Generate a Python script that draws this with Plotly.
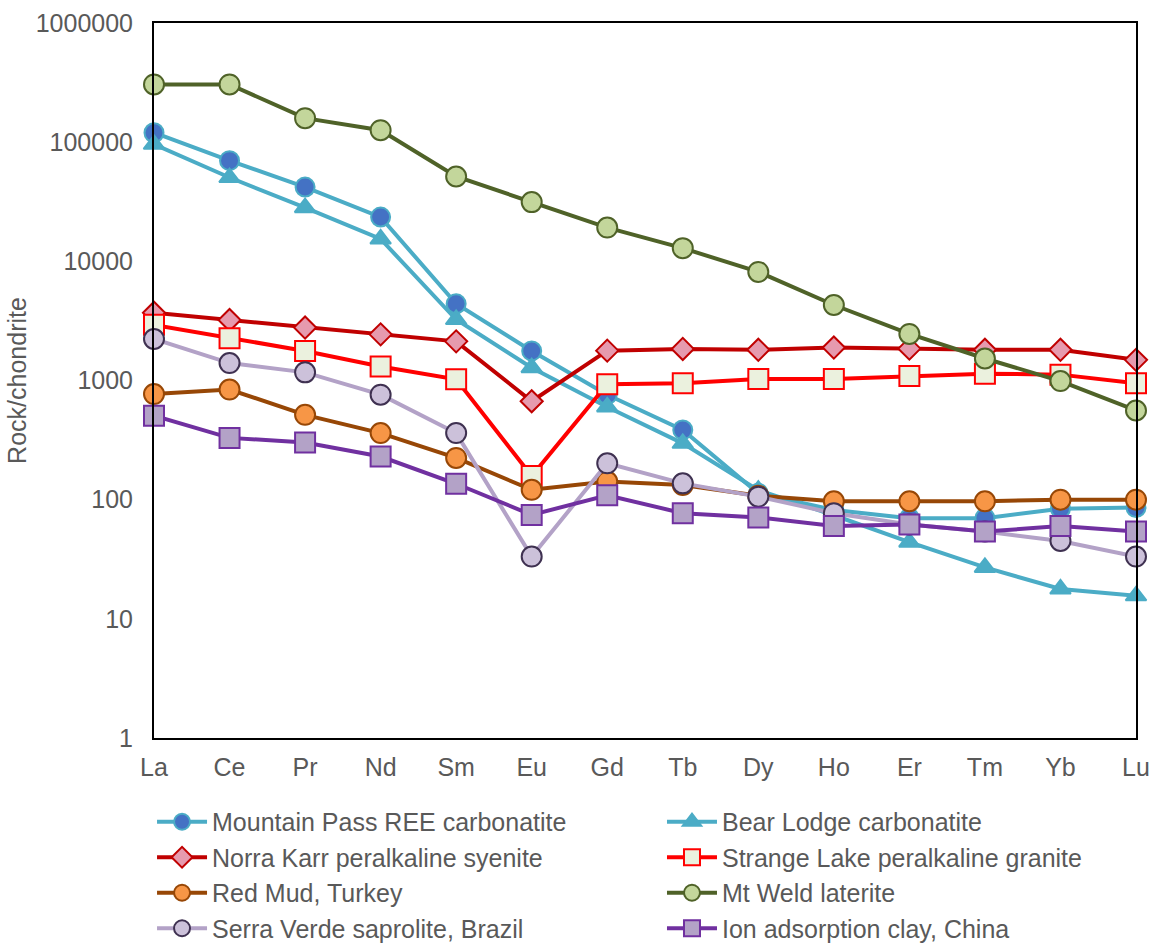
import plotly.graph_objects as go

elements = ["La", "Ce", "Pr", "Nd", "Sm", "Eu", "Gd", "Tb", "Dy", "Ho", "Er", "Tm", "Yb", "Lu"]

mountain_pass = [120000, 70000, 42000, 23500, 4400, 1770, 760, 385, 113, 82, 70, 70, 84, 86]
bear_lodge = [96000, 50500, 28200, 15400, 3250, 1280, 600, 297, 120, 74, 44, 27, 17.8, 15.6]
norra_karr = [3700, 3220, 2780, 2440, 2130, 670, 1780, 1840, 1810, 1890, 1850, 1810, 1810, 1490]
strange_lake = [2930, 2260, 1770, 1310, 1025, 158, 930, 950, 1030, 1030, 1090, 1140, 1120, 950]
red_mud = [770, 840, 515, 362, 224, 121, 142, 133, 108, 97, 97, 97, 100, 100]
mt_weld = [305000, 305000, 159000, 126000, 51500, 31400, 19200, 12900, 8150, 4300, 2460, 1530, 990, 560]
serra_verde = [2230, 1400, 1170, 760, 362, 33.3, 202, 137, 106, 77, 62, 54, 45, 33.3]
ion_clay = [507, 330, 302, 230, 136, 74.5, 109, 77, 71, 60, 62, 54, 60, 54]

names = ["Mountain Pass REE carbonatite", "Bear Lodge carbonatite",
         "Norra Karr peralkaline syenite", "Strange Lake peralkaline granite",
         "Red Mud, Turkey", "Mt Weld laterite",
         "Serra Verde saprolite, Brazil", "Ion adsorption clay, China"]
series = [mountain_pass, bear_lodge, norra_karr, strange_lake, red_mud, mt_weld, serra_verde, ion_clay]

styles = [
    dict(line="#4BACC6", fill="#4472C4", edge="#4BACC6", symbol="circle", size=19),
    dict(line="#4BACC6", fill="#4BACC6", edge="#4BACC6", symbol="triangle-up", size=18),
    dict(line="#C00000", fill="#E69AAE", edge="#C00000", symbol="diamond", size=17),
    dict(line="#FF0000", fill="#EBF1DE", edge="#FF0000", symbol="square", size=20),
    dict(line="#974706", fill="#F79646", edge="#974706", symbol="circle", size=20),
    dict(line="#4F6228", fill="#C3D69B", edge="#4F6228", symbol="circle", size=20),
    dict(line="#B3A2C7", fill="#CCC1DA", edge="#3F3151", symbol="circle", size=20),
    dict(line="#7030A0", fill="#B3A2C7", edge="#7030A0", symbol="square", size=20),
]

fig = go.Figure()
for i, (name, vals, st) in enumerate(zip(names, series, styles)):
    fig.add_trace(go.Scatter(
        x=elements, y=vals, name=name, mode="lines+markers",
        line=dict(color=st["line"], width=4),
        marker=dict(symbol=st["symbol"], size=st["size"], color=st["fill"],
                    line=dict(color=st["edge"], width=2)),
        cliponaxis=False,
        legend="legend" if i % 2 == 0 else "legend2",
    ))

font_family = "Liberation Sans, Arial, sans-serif"
tick_color = "#595959"
fs = 25

legend_common = dict(
    orientation="v", xanchor="left", yanchor="top",
    itemwidth=50, tracegroupgap=0, bgcolor="rgba(0,0,0,0)",
    font=dict(family=font_family, size=fs, color=tick_color),
)

fig.update_layout(
    width=1153, height=944,
    margin=dict(l=154, r=17, t=23, b=206, autoexpand=False),
    paper_bgcolor="white", plot_bgcolor="white",
    font=dict(family=font_family, size=fs, color=tick_color),
    showlegend=True,
    legend=dict(x=-0.002, y=-0.0853, **legend_common),
    legend2=dict(x=0.5173, y=-0.0853, **legend_common),
)

fig.update_xaxes(
    type="category", range=[0, 13], showgrid=False, zeroline=False,
    showline=True, linecolor="black", linewidth=2, mirror=True,
    ticks="", ticklabelstandoff=6,
    tickfont=dict(family=font_family, size=fs, color=tick_color),
)
fig.update_yaxes(
    type="log", range=[0, 6], showgrid=False, zeroline=False,
    showline=True, linecolor="black", linewidth=2, mirror=True,
    tickvals=[1, 10, 100, 1000, 10000, 100000, 1000000],
    ticktext=["1", "10", "100", "1000", "10000", "100000", "1000000"],
    ticks="", ticklabelstandoff=14,
    tickfont=dict(family=font_family, size=fs, color=tick_color),
    title=dict(text="Rock/chondrite", standoff=2,
               font=dict(family=font_family, size=fs, color=tick_color)),
)

fig.write_html(
    "out.html",
    config={"displayModeBar": False},
    post_script="document.body.style.margin='0';document.documentElement.style.overflow='hidden';document.body.style.overflow='hidden';",
)
